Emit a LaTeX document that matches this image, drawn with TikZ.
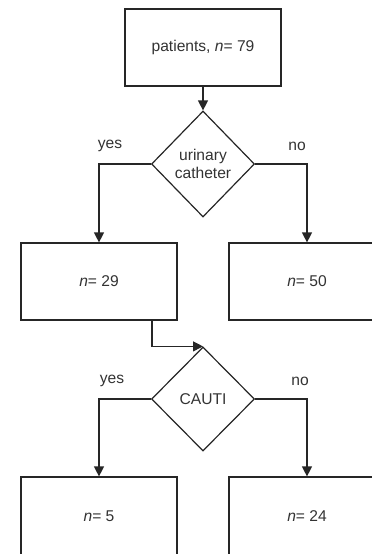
\documentclass[tikz,border=0pt]{standalone}
\usepackage{fontspec}
\setmainfont{Liberation Sans}
\usetikzlibrary{shapes.geometric,arrows.meta}
\begin{document}
\begin{tikzpicture}[x=1pt,y=-1pt,
  line width=1.2pt,
  txt/.style={text=black!80, font=\fontsize{15.6}{18.5}\selectfont},
  box/.style={draw=black!85, txt, minimum width=156pt, minimum height=77pt, inner sep=0pt},
  dec/.style={draw=black!85, shape=diamond, txt, minimum width=103pt, minimum height=106pt, inner sep=0pt, align=center},
  lbl/.style={txt, inner sep=0pt},
  arr/.style={draw=black!85, -{Triangle[length=10pt,width=10pt]}}
]
\useasboundingbox (0,0) rectangle (372,554);
\clip (0,0) rectangle (372,554);
\fill[white] (0,0) rectangle (372,554);

\node[box] (top) at (203,47.5) {patients, \textit{n}= 79};
\node[dec] (d1) at (203,164) {urinary\\catheter};
\node[box] (b1) at (99,281.5) {\textit{n}= 29};
\node[box] (b2) at (307,281.5) {\textit{n}= 50};
\node[dec, minimum height=104pt] (d2) at (203,399) {CAUTI};
\node[box, minimum height=78pt] (b3) at (99,516) {\textit{n}= 5};
\node[box, minimum height=78pt] (b4) at (307,516) {\textit{n}= 24};

\node[lbl] (y1) at (110,146) {yes};
\node[lbl] (n1) at (297,146) {no};
\node[lbl] (y2) at (112,381) {yes};
\node[lbl] (n2) at (300,381) {no};

\draw[arr] (top) -- (d1);
\draw[arr] (d1.west) -| (b1);
\draw[arr] (d1.east) -| (b2);
\draw[arr] ([xshift=53pt]b1.south) |- (d2.north);
\draw[arr] (d2.west) -| (b3);
\draw[arr] (d2.east) -| (b4);
\end{tikzpicture}
\end{document}
